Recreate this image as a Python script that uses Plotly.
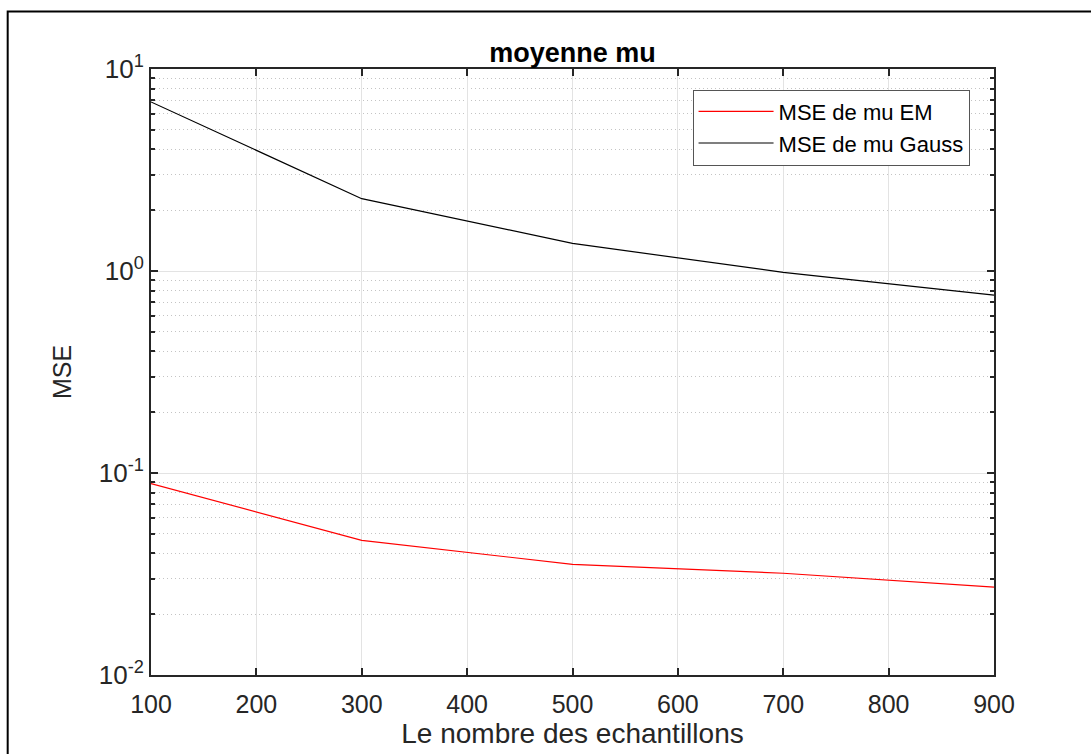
import plotly.graph_objects as go

samples = [100, 300, 500, 700, 900]
mse_em = [0.0887, 0.0464, 0.0353, 0.0319, 0.0272]
mse_gauss = [6.87, 2.28, 1.37, 0.985, 0.76]

y_major = [0.01, 0.1, 1, 10]
y_major_text = ["10<sup>-2</sup>", "10<sup>-1</sup>", "10<sup>0</sup>", "10<sup>1</sup>"]
y_minor = [m * 10 ** e for e in (-2, -1, 0) for m in range(2, 10)]
x_ticks = [100, 200, 300, 400, 500, 600, 700, 800, 900]

fig = go.Figure()
fig.add_trace(go.Scatter(x=samples, y=mse_em, mode="lines", name="MSE de mu EM",
                         line=dict(color="#ff0000", width=1.2)))
fig.add_trace(go.Scatter(x=samples, y=mse_gauss, mode="lines", name="MSE de mu Gauss",
                         line=dict(color="#000000", width=1.2)))

axcol = "#262626"
fnt = "Liberation Sans, Arial"
fig.update_layout(
    width=1091, height=754,
    margin=dict(l=151, r=97, t=69, b=77),
    paper_bgcolor="white", plot_bgcolor="white",
    font=dict(family=fnt, color=axcol, size=22),
    title=dict(text="<b>moyenne mu</b>", x=0.5, xanchor="center", xref="paper",
               y=0.93, yref="container", yanchor="middle",
               font=dict(family=fnt, size=27, color="#000")),
    showlegend=True,
    legend=dict(x=0.971, y=0.966, xanchor="right", yanchor="top",
                bordercolor="#555", borderwidth=1, bgcolor="white", itemwidth=75,
                font=dict(family=fnt, size=22, color="#000"), tracegroupgap=0),
    xaxis=dict(range=[100, 900], tickvals=x_ticks, ticks="inside", ticklen=7,
               tickwidth=2, tickcolor=axcol, showline=True, linecolor=axcol, linewidth=2,
               mirror="ticks", showgrid=True, gridcolor="#e3e3e3", gridwidth=1,
               zeroline=False, tickfont=dict(family=fnt, size=25, color=axcol),
               ticklabelstandoff=6,
               title=dict(text="Le nombre des echantillons",
                          font=dict(family=fnt, size=28, color=axcol), standoff=4)),
    yaxis=dict(type="log", range=[-2, 1], tickvals=y_major, ticktext=y_major_text,
               ticks="inside", ticklen=7, tickwidth=2, tickcolor=axcol,
               showline=True, linecolor=axcol, linewidth=2, mirror="ticks",
               showgrid=True, gridcolor="#e3e3e3", gridwidth=1, zeroline=False,
               tickfont=dict(family=fnt, size=26, color=axcol),
               minor=dict(tickvals=y_minor, ticks="inside", ticklen=4, tickwidth=2,
                          tickcolor=axcol, showgrid=True, gridcolor="#c4c4c4",
                          griddash="1px,3px", gridwidth=1),
               title=dict(text="MSE", font=dict(family=fnt, size=25, color=axcol), standoff=20)),
)
fig.add_shape(type="rect", xref="paper", yref="paper", x0=-0.17, x1=1.3, y0=-0.3, y1=1.095,
              line=dict(color="#000", width=2), fillcolor="rgba(0,0,0,0)", layer="above")
fig.write_html("out.html")
